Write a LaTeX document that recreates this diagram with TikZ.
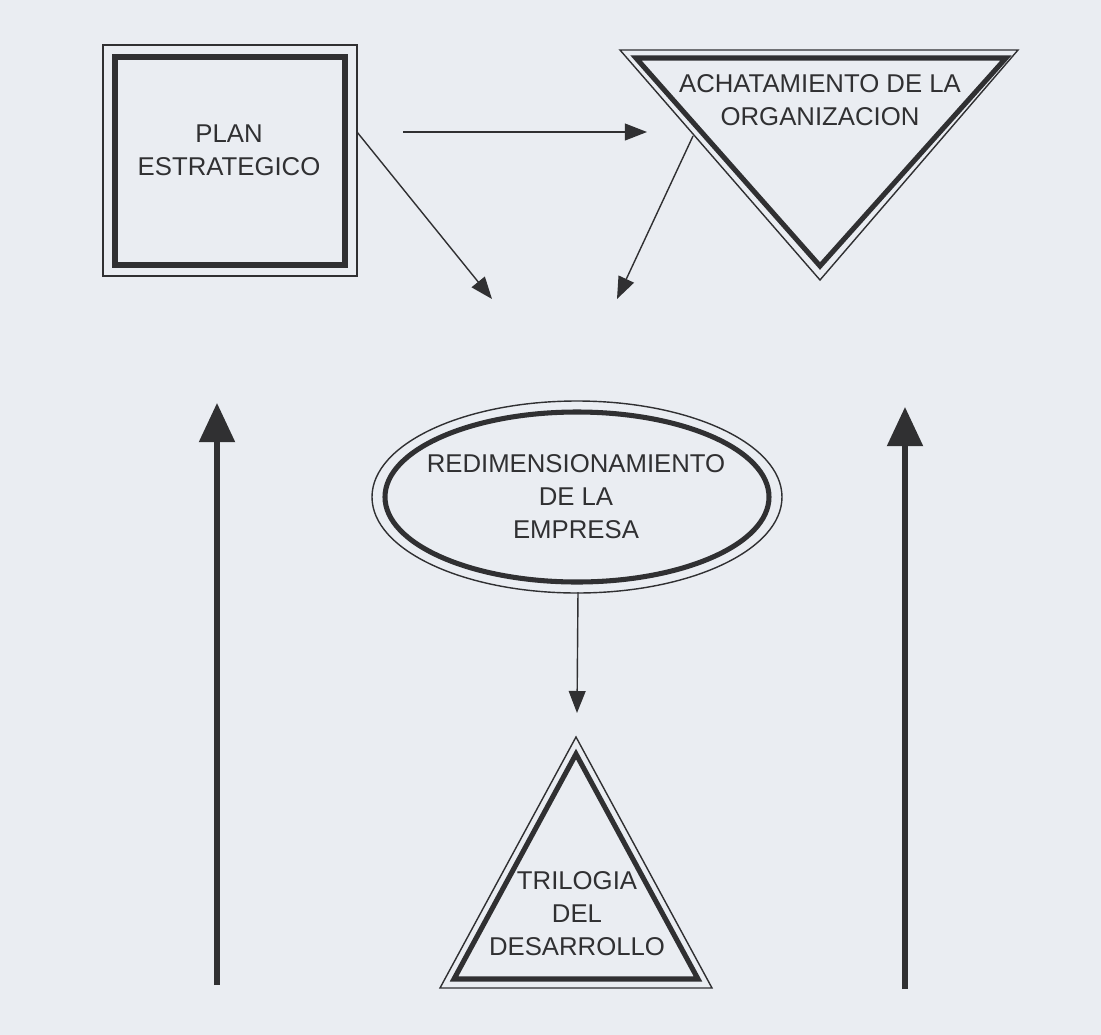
\documentclass[tikz,border=0pt]{standalone}
\usepackage{fontspec}
\setmainfont{Liberation Sans}
\usetikzlibrary{arrows.meta}
\definecolor{papel}{RGB}{234,237,242}
\definecolor{tinta}{RGB}{48,48,50}
\tikzset{
  fino/.style={draw=tinta, line width=1pt},
  grueso/.style={draw=tinta, line width=3.6pt},
  flecha/.style={tinta, line width=1pt, -{Triangle[length=0.55cm,width=0.42cm]}},
  flechagrande/.style={tinta, line width=3.6pt, -{Triangle[length=0.98cm,width=0.88cm]}},
  rotulo/.style={align=center, text=tinta, inner sep=0pt,
    font=\fontsize{18.3}{23.4}\selectfont}
}

\begin{document}
\begin{tikzpicture}[x=0.025cm,y=-0.025cm]
\fill[papel] (0,0) rectangle (1101,1035);
\useasboundingbox (0,0) rectangle (1101,1035);

% plan estrategico
\draw[fino] (103,45) rectangle (357,276);
\draw[grueso] (115,57) rectangle (345,265);
\node[rotulo] (plan) at (229,150) {PLAN\\ESTRATEGICO};

% achatamiento
\coordinate (a1) at (620,50);
\coordinate (a2) at (1018,50);
\coordinate (a3) at (820,280);
\coordinate (b1) at (636,58);
\coordinate (b2) at (1006,58);
\coordinate (b3) at (820,266);
\draw[fino] (a1)--(a2)--(a3)--cycle;
\draw[grueso] (b1)--(b2)--(b3)--cycle;
\node[rotulo] (achata) at (820,100) {ACHATAMIENTO DE LA\\ORGANIZACION};

% redimensionamiento
\coordinate (e) at (577,497);
\draw[fino] (e) ellipse (205 and 96);
\draw[grueso] (e) ellipse (192 and 85);
\node[rotulo] (redim) at (576,497) {REDIMENSIONAMIENTO\\DE LA\\EMPRESA};

% trilogia
\coordinate (t1) at (440,988);
\coordinate (t2) at (712,988);
\coordinate (t3) at (576,737);
\coordinate (s1) at (454,979);
\coordinate (s2) at (698,979);
\coordinate (s3) at (576,754);
\draw[fino] (t1)--(t2)--(t3)--cycle;
\draw[grueso] (s1)--(s2)--(s3)--cycle;
\node[rotulo] (trilogia) at (577,914) {TRILOGIA\\DEL\\DESARROLLO};

% flechas
\coordinate (h1) at (403,132);
\coordinate (h2) at (647,132);
\coordinate (d1) at (357,132);
\coordinate (d2) at (492,299);
\coordinate (g1) at (693,136);
\coordinate (g2) at (617,299);
\coordinate (r1) at (578,592);
\coordinate (r2) at (577,713);
\draw[flecha] (h1)--(h2);
\draw[flecha] (d1)--(d2);
\draw[flecha] (g1)--(g2);
\draw[flecha] (r1)--(r2);

\coordinate (iz1) at (217,985);
\coordinate (iz2) at (217,403);
\coordinate (de1) at (905,989);
\coordinate (de2) at (905,407);
\draw[flechagrande] (iz1)--(iz2);
\draw[flechagrande] (de1)--(de2);
\end{tikzpicture}
\end{document}
